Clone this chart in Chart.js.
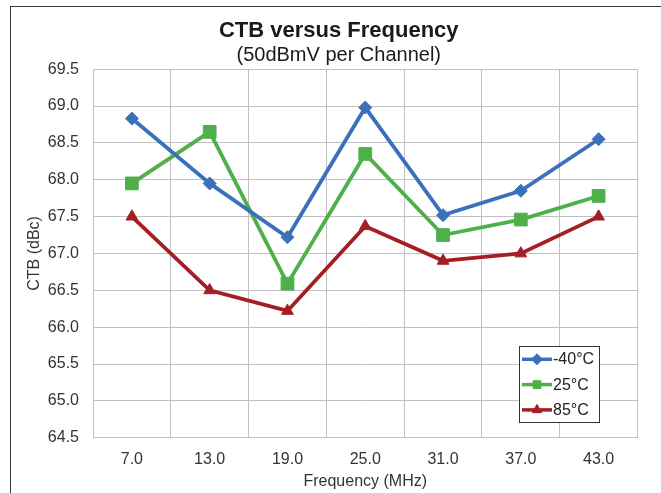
<!DOCTYPE html>
<html>
<head>
<meta charset="utf-8">
<script src="https://cdn.jsdelivr.net/npm/chart.js@4.4.1/dist/chart.umd.min.js"></script>
<style>
  html, body { margin: 0; padding: 0; background: #fff; }
  #wrap { position: relative; width: 661px; height: 493px; overflow: hidden; }
  #frame { position: absolute; left: 10px; top: 6px; right: -4px; bottom: -4px;
           border-top: 1.5px solid #3a3a3a; border-left: 1.5px solid #3a3a3a; }
  canvas { position: absolute; left: 0; top: 0; }
</style>
</head>
<body>
<div id="wrap">
  <div id="frame"></div>
  <canvas id="ctb" width="661" height="493"></canvas>
</div>
<script>
// data
const frequencies = ["7.0", "13.0", "19.0", "25.0", "31.0", "37.0", "43.0"];
const ctbMinus40 = [68.83, 67.95, 67.22, 68.98, 67.52, 67.85, 68.55];
const ctb25 = [67.95, 68.65, 66.59, 68.35, 67.25, 67.46, 67.78];
const ctb85 = [67.50, 66.50, 66.22, 67.37, 66.90, 67.00, 67.50];
const seriesNames = ["-40°C", "25°C", "85°C"];
const yMin = 64.5, yMax = 69.5, yStep = 0.5;

const FONT = "'Liberation Sans', Arial, sans-serif";
Chart.defaults.font.family = FONT;
Chart.defaults.color = "#404040";

const blue = "#3b70ba";
const green = "#4fb04a";
const red = "#a51e25";
const gridColor = "#c0c0c0";

// legend box sitting inside the plot, bottom right
const boxLegend = {
  id: "boxLegend",
  afterDraw(chart) {
    const { ctx, chartArea } = chart;
    const x = Math.round(chartArea.right - 118.5), y = Math.round(chartArea.bottom - 91.7);
    const w = 80, h = 76;
    ctx.save();
    ctx.fillStyle = "#fff";
    ctx.fillRect(x, y, w, h);
    ctx.strokeStyle = "#333";
    ctx.lineWidth = 1;
    ctx.strokeRect(x + 0.5, y + 0.5, w, h);
    ctx.font = "16px " + FONT;
    ctx.textBaseline = "middle";
    chart.data.datasets.forEach((ds, i) => {
      const cy = y + 13.3 + i * 25.3;
      ctx.strokeStyle = ds.borderColor;
      ctx.lineWidth = 3.5;
      ctx.beginPath();
      ctx.moveTo(x + 3, cy);
      ctx.lineTo(x + 33, cy);
      ctx.stroke();
      ctx.fillStyle = ds.pointBackgroundColor;
      ctx.lineWidth = 1;
      Chart.helpers.drawPoint(ctx, { pointStyle: ds.pointStyle, radius: 5.5, rotation: 0, borderWidth: 1 }, x + 18, cy);
      ctx.fillStyle = "#222";
      ctx.fillText(ds.label, x + 34, cy + 0.5);
    });
    ctx.restore();
  }
};

function series(label, values, color, style, radius) {
  return {
    label: label,
    data: values,
    borderColor: color,
    backgroundColor: color,
    pointBackgroundColor: color,
    pointBorderColor: color,
    borderWidth: 3.8,
    pointStyle: style,
    pointRadius: radius,
    pointHoverRadius: radius,
    pointBorderWidth: 1,
    tension: 0
  };
}

new Chart(document.getElementById("ctb"), {
  type: "line",
  data: {
    labels: frequencies,
    datasets: [
      series(seriesNames[0], ctbMinus40, blue, "rectRot", 6.5),
      series(seriesNames[1], ctb25, green, "rect", 9),
      series(seriesNames[2], ctb85, red, "triangle", 6.8)
    ]
  },
  options: {
    responsive: false,
    animation: false,
    devicePixelRatio: 1,
    // left padding shifts the title centre to match the original
    layout: { padding: { top: 0, left: 40, right: 23.5, bottom: 0 } },
    plugins: {
      legend: { display: false },
      tooltip: { enabled: false },
      title: {
        display: true,
        text: "CTB versus Frequency",
        color: "#1a1a1a",
        font: { size: 22, weight: "bold" },
        padding: { top: 18, bottom: 0 }
      },
      subtitle: {
        display: true,
        text: "(50dBmV per Channel)",
        color: "#1a1a1a",
        font: { size: 20 },
        padding: { top: -1, bottom: 1.8 }
      }
    },
    scales: {
      x: {
        offset: true,
        grid: { offset: true, color: gridColor, drawTicks: false },
        border: { color: gridColor },
        ticks: { padding: 12, font: { size: 16 }, color: "#333" },
        title: {
          display: true,
          text: "Frequency (MHz)",
          color: "#333",
          font: { size: 16 },
          padding: { top: 0, bottom: 1.7 }
        },
        afterFit(scale) { scale.height = 55.3; }
      },
      y: {
        min: yMin,
        max: yMax,
        grid: { color: gridColor, drawTicks: false },
        border: { color: gridColor },
        ticks: {
          stepSize: yStep,
          padding: 14,
          font: { size: 16 },
          color: "#333",
          callback: (v) => Number(v).toFixed(1)
        },
        title: {
          display: true,
          text: "CTB (dBc)",
          color: "#333",
          font: { size: 16 },
          padding: { top: -15, bottom: 0 }
        },
        afterFit(scale) { scale.width = 53; }
      }
    }
  },
  plugins: [boxLegend]
});
</script>
</body>
</html>
